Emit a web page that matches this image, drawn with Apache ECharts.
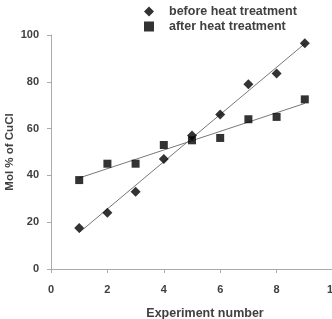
<!DOCTYPE html>
<html>
<head>
<meta charset="utf-8">
<script src="https://cdn.jsdelivr.net/npm/echarts@6/dist/echarts.min.js"></script>
<style>
html, body { margin: 0; padding: 0; background: #fff; }
#chart { width: 332px; height: 319px; }
</style>
</head>
<body>
<div id="chart"></div>
<script>
// 实验编号 / 热处理前后 CuCl 含量
var experiments = [1, 2, 3, 4, 5, 6, 7, 8, 9];
var beforeHeat = [17.5, 24, 33, 47, 57, 66, 79, 83.5, 96.5];
var afterHeat = [38, 45, 45, 53, 55, 56, 64, 65, 72.5];
var xTicks = [0, 2, 4, 6, 8, 10];
var yTicks = [0, 20, 40, 60, 80, 100];

// least squares trend line, drawn from first to last experiment
function trend(xs, ys) {
	var n = xs.length, sx = 0, sy = 0, sxy = 0, sxx = 0;
	for (var i = 0; i < n; i++) {
		sx += xs[i]; sy += ys[i]; sxy += xs[i] * ys[i]; sxx += xs[i] * xs[i];
	}
	var k = (n * sxy - sx * sy) / (n * sxx - sx * sx);
	var b = (sy - k * sx) / n;
	var x0 = xs[0], x1 = xs[n - 1];
	return [[x0, k * x0 + b], [x1, k * x1 + b]];
}

function pairs(xs, ys) {
	return xs.map(function (x, i) { return [x, ys[i]]; });
}

var txt = '#404040';
var font = 'Liberation Sans';

var myChart = echarts.init(document.getElementById('chart'));
var option = {
	animation: false,
	legend: {
		orient: 'vertical',
		left: 144,
		top: 5,
		padding: 0,
		itemGap: 2,
		itemWidth: 10,
		itemHeight: 10,
		textStyle: { color: txt, fontSize: 12.5, fontWeight: 'bold', fontFamily: font, padding: [0, 0, 0, 10] },
		data: [
			{ name: 'before heat treatment', icon: 'diamond' },
			{ name: 'after heat treatment', icon: 'rect' }
		]
	},
	grid: {
		left: 51,
		top: 35,
		bottom: 50,
		width: 282,
		outerBoundsMode: 'none'
	},
	xAxis: {
		type: 'value',
		min: xTicks[0],
		max: xTicks[xTicks.length - 1],
		interval: 2,
		name: 'Experiment number',
		nameLocation: 'middle',
		nameGap: 38,
		nameMoveOverlap: false,
		nameTextStyle: { color: txt, fontSize: 12.5, fontWeight: 'bold', fontFamily: font, padding: [0, 0, 0, 26] },
		axisLine: { lineStyle: { color: '#aaa' } },
		axisTick: { show: true, length: 4, lineStyle: { color: '#aaa' } },
		axisLabel: { color: txt, fontSize: 11, fontWeight: 'bold', fontFamily: font, margin: 15 },
		splitLine: { show: false }
	},
	yAxis: {
		type: 'value',
		min: yTicks[0],
		max: yTicks[yTicks.length - 1],
		interval: 20,
		name: 'Mol % of CuCl',
		nameLocation: 'middle',
		nameGap: 35,
		nameMoveOverlap: false,
		nameTextStyle: { color: txt, fontSize: 11.5, fontWeight: 'bold', fontFamily: font },
		axisLine: { show: true, lineStyle: { color: '#aaa' } },
		axisTick: { show: true, length: 4, lineStyle: { color: '#aaa' } },
		axisLabel: { color: txt, fontSize: 11, fontWeight: 'bold', fontFamily: font, margin: 12 },
		splitLine: { show: false }
	},
	series: [
		{
			name: 'before heat treatment',
			type: 'scatter',
			symbol: 'diamond',
			symbolSize: 10,
			itemStyle: { color: '#000' },
			data: pairs(experiments, beforeHeat),
			z: 3
		},
		{
			name: 'after heat treatment',
			type: 'scatter',
			symbol: 'rect',
			symbolSize: 8,
			itemStyle: { color: '#000' },
			data: pairs(experiments, afterHeat),
			z: 3
		},
		{
			name: 'before fit',
			type: 'line',
			showSymbol: false,
			lineStyle: { color: '#777', width: 1 },
			data: trend(experiments, beforeHeat),
			z: 2
		},
		{
			name: 'after fit',
			type: 'line',
			showSymbol: false,
			lineStyle: { color: '#777', width: 1 },
			data: trend(experiments, afterHeat),
			z: 2
		}
	]
};
myChart.setOption(option);
</script>
</body>
</html>
